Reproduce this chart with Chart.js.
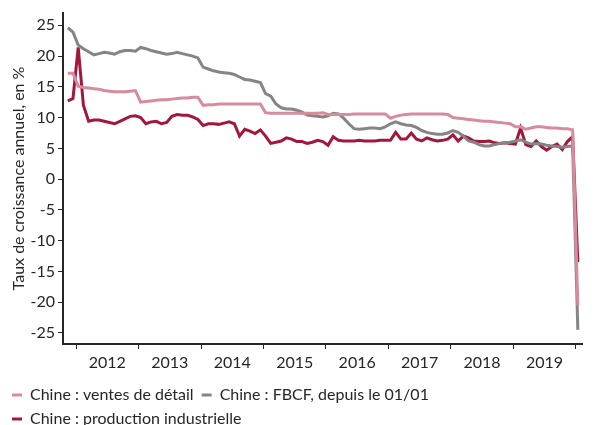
<!DOCTYPE html>
<html lang="fr">
<head>
  <meta charset="UTF-8" />
  <title>Chine : ventes de détail, FBCF et production industrielle</title>
  <script src="https://cdn.jsdelivr.net/npm/chart.js"></script>
  <style>
    html, body {
      margin: 0;
      padding: 0;
      background: #ffffff;
      overflow: hidden;
    }

    .chart-box {
      position: relative;
      width: 599px;
      height: 437px;
    }
  </style>
</head>
<body>
  <div class="chart-box">
    <canvas id="chinaChart"></canvas>
  </div>

  <script>
    // monthly points, first one is Dec 2011, last one Feb 2020
    const firstYear = 2011;
    const firstMonth = 12;

    const retailSales = [
      17.2, 17.2, 15.1, 14.9, 14.8, 14.7, 14.6, 14.4, 14.3, 14.2,
      14.2, 14.2, 14.3, 14.4, 12.5, 12.6, 12.7, 12.8, 12.9, 12.9,
      13.0, 13.1, 13.2, 13.2, 13.3, 13.3, 12.0, 12.1, 12.1, 12.2,
      12.2, 12.2, 12.2, 12.2, 12.2, 12.2, 12.2, 12.2, 10.8, 10.7,
      10.7, 10.7, 10.7, 10.7, 10.7, 10.7, 10.7, 10.7, 10.7, 10.8,
      10.5, 10.5, 10.5, 10.5, 10.5, 10.6, 10.6, 10.6, 10.6, 10.6,
      10.6, 10.6, 9.9, 10.2, 10.4, 10.5, 10.6, 10.6, 10.6, 10.6,
      10.6, 10.6, 10.6, 10.5, 10.0, 9.9, 9.8, 9.7, 9.6, 9.5,
      9.4, 9.4, 9.3, 9.2, 9.1, 9.0, 8.5, 8.5, 8.1, 8.3,
      8.5, 8.5, 8.4, 8.3, 8.3, 8.2, 8.2, 8.0, -20.5
    ];

    const fixedInvestment = [
      24.6, 23.9, 21.8, 21.2, 20.7, 20.2, 20.4, 20.6, 20.5, 20.3,
      20.7, 20.9, 20.9, 20.8, 21.4, 21.2, 20.9, 20.7, 20.5, 20.3,
      20.4, 20.6, 20.4, 20.2, 20.0, 19.7, 18.2, 17.9, 17.6, 17.4,
      17.3, 17.2, 17.0, 16.6, 16.2, 16.1, 15.9, 15.7, 13.9, 13.5,
      12.2, 11.6, 11.4, 11.4, 11.2, 10.9, 10.4, 10.3, 10.2, 10.1,
      10.3, 10.7, 10.6, 9.9, 9.0, 8.2, 8.1, 8.2, 8.3, 8.3,
      8.2, 8.5, 9.0, 9.3, 9.0, 8.8, 8.7, 8.4, 7.9, 7.6,
      7.4, 7.3, 7.3, 7.5, 7.9, 7.6, 7.0, 6.2, 6.0, 5.6,
      5.4, 5.4, 5.6, 5.8, 5.9, 6.0, 6.2, 6.4, 6.0, 5.7,
      5.8, 5.7, 5.5, 5.4, 5.3, 5.2, 5.3, 5.4, -24.5
    ];

    const industrialOutput = [
      12.7, 13.1, 21.4, 12.0, 9.4, 9.6, 9.6, 9.4, 9.2, 9.0,
      9.4, 9.8, 10.2, 10.3, 10.0, 9.0, 9.3, 9.4, 9.0, 9.2,
      10.2, 10.5, 10.4, 10.4, 10.1, 9.7, 8.7, 9.0, 9.0, 8.9,
      9.1, 9.3, 9.0, 7.0, 8.1, 7.8, 7.4, 8.0, 7.0, 5.8,
      6.0, 6.2, 6.7, 6.5, 6.1, 6.1, 5.8, 6.0, 6.3, 6.1,
      5.5, 6.9, 6.3, 6.2, 6.2, 6.2, 6.3, 6.2, 6.2, 6.2,
      6.3, 6.3, 6.3, 7.6, 6.5, 6.5, 7.5, 6.5, 6.2, 6.7,
      6.4, 6.2, 6.3, 6.5, 7.2, 6.2, 7.0, 6.7, 6.2, 6.1,
      6.1, 6.2, 5.9, 5.8, 5.9, 5.8, 5.7, 8.3, 5.6, 5.3,
      6.2, 5.3, 4.7, 5.3, 5.7, 4.8, 6.1, 6.9, -13.5
    ];

    const seriesNames = [
      'Chine : ventes de détail',
      'Chine : FBCF, depuis le 01/01',
      'Chine : production industrielle'
    ];
    const seriesColors = ['#d88b9b', '#858585', '#a3183a'];

    const yearTicks = [2012, 2013, 2014, 2015, 2016, 2017, 2018, 2019, 2020];
    const yearLabels = ['2012', '2013', '2014', '2015', '2016', '2017', '2018', '2019'];
    const yTicks = [-25, -20, -15, -10, -5, 0, 5, 10, 15, 20, 25];

    const textColor = '#262626';
    const axisColor = '#262626';
    const baseFont = { family: 'Lato, "Open Sans", sans-serif', size: 16 };

    // points sit a little before the start of their month, like the original
    const monthPos = (i) => firstYear + (firstMonth - 1.6 + i) / 12;
    const toPoints = (values) => values.map((v, i) => ({ x: monthPos(i), y: v }));

    // tick marks on the year boundaries, labels in the middle of each year
    const xTickValues = [];
    yearTicks.forEach((y, i) => {
      xTickValues.push(y);
      if (i < yearLabels.length) xTickValues.push(y + 0.5);
    });

    const datasets = [retailSales, fixedInvestment, industrialOutput].map((values, i) => ({
      label: seriesNames[i],
      data: toPoints(values),
      borderColor: seriesColors[i],
      backgroundColor: seriesColors[i],
      borderWidth: 3,
      pointRadius: 0,
      tension: 0,
      fill: false
    }));

    new Chart(document.getElementById('chinaChart'), {
      type: 'line',
      data: { datasets },
      options: {
        responsive: true,
        maintainAspectRatio: false,
        animation: false,
        layout: { padding: { left: 4, right: 17, top: 13, bottom: 0 } },
        scales: {
          x: {
            type: 'linear',
            min: 2011.79,
            max: 2020.1,
            afterBuildTicks: (scale) => {
              scale.ticks = xTickValues.map(v => ({ value: v }));
            },
            afterFit: (scale) => { scale.height = 35; },
            ticks: {
              autoSkip: false,
              maxRotation: 0,
              minRotation: 0,
              padding: 4,
              color: textColor,
              font: baseFont,
              callback: (value) => {
                const idx = yearLabels.indexOf(String(Math.floor(value)));
                return (value % 1 === 0.5 && idx >= 0) ? yearLabels[idx] : '';
              }
            },
            grid: {
              drawOnChartArea: false,
              tickLength: 5,
              lineWidth: 1,
              color: (ctx) => (ctx.tick && ctx.tick.value % 1 === 0) ? axisColor : 'rgba(0,0,0,0)'
            },
            border: { display: true, color: axisColor, width: 2 }
          },
          y: {
            min: -26.8,
            max: 27,
            afterBuildTicks: (scale) => {
              scale.ticks = yTicks.map(v => ({ value: v }));
            },
            afterFit: (scale) => { scale.width = 59; },
            ticks: {
              padding: 3,
              color: textColor,
              font: baseFont
            },
            grid: {
              drawOnChartArea: false,
              tickLength: 5,
              lineWidth: 1,
              color: axisColor
            },
            border: { display: true, color: axisColor, width: 2 },
            title: {
              display: true,
              text: 'Taux de croissance annuel, en %',
              color: textColor,
              font: baseFont,
              padding: { top: 5, bottom: 0 }
            }
          }
        },
        plugins: {
          legend: {
            position: 'bottom',
            align: 'start',
            labels: {
              color: textColor,
              font: baseFont,
              boxWidth: 10,
              boxHeight: 3,
              padding: 8,
              generateLabels: (chart) => {
                const items = Chart.defaults.plugins.legend.labels.generateLabels(chart);
                return items.map(item => ({ ...item, fillStyle: item.strokeStyle, lineWidth: 0 }));
              }
            }
          },
          tooltip: { enabled: false }
        }
      }
    });
  </script>
</body>
</html>
